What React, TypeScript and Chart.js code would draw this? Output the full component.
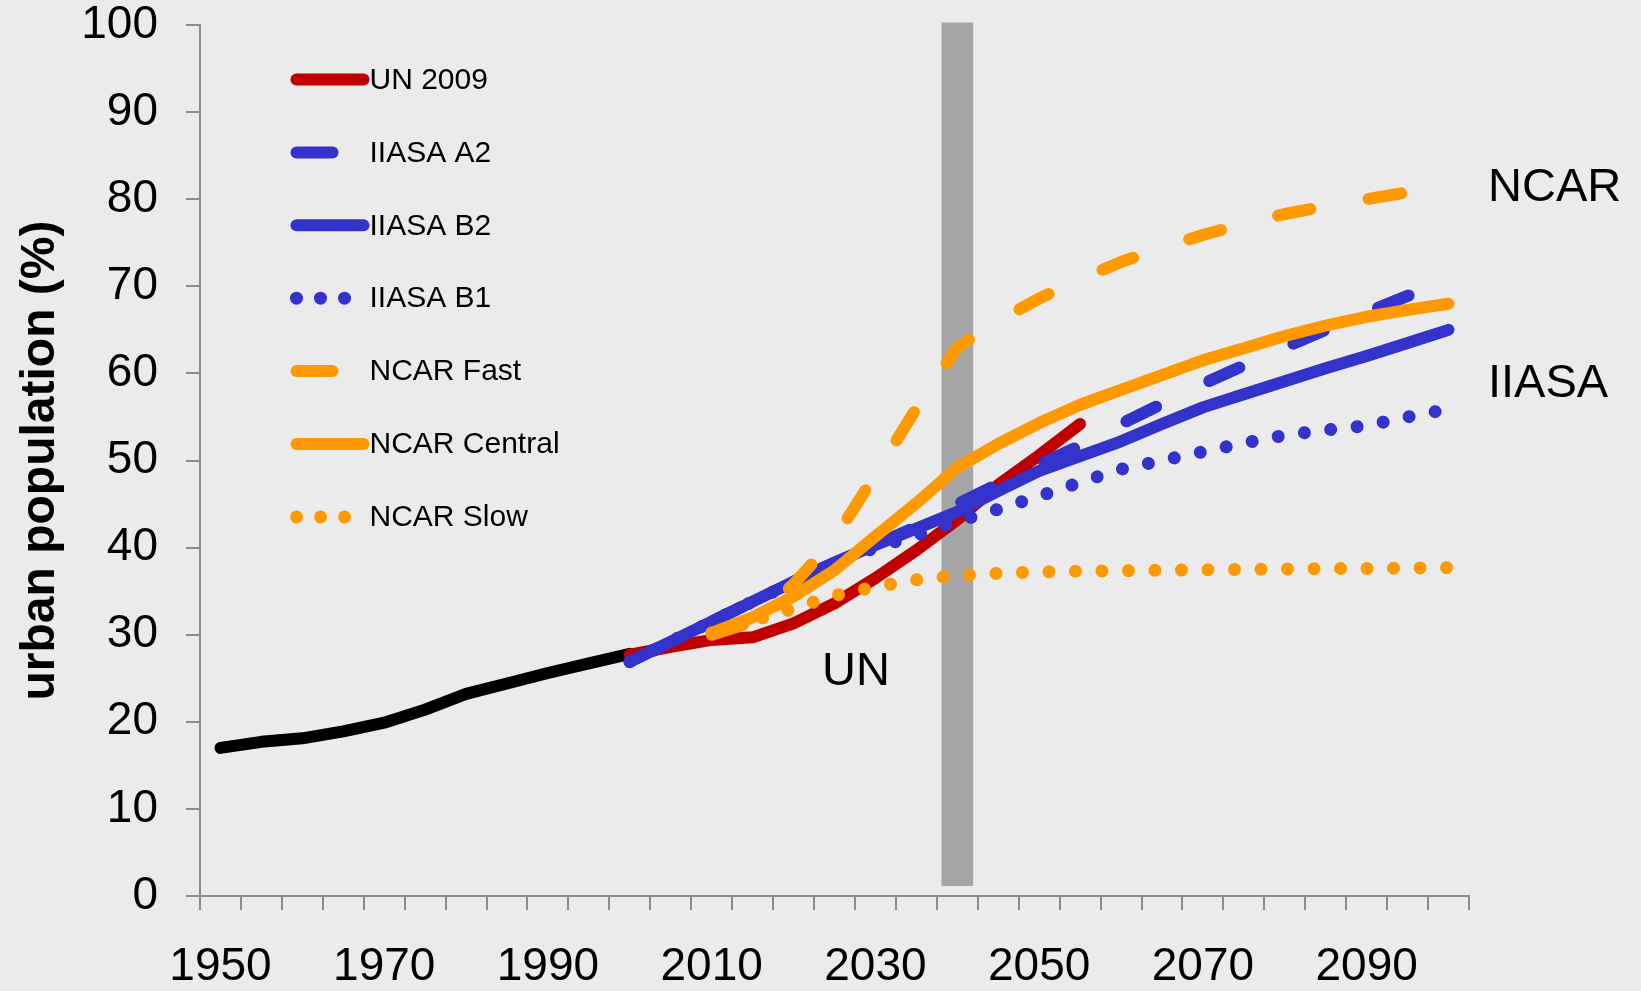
import React, { useEffect, useRef } from 'react';
import { Chart, registerables } from 'chart.js';

Chart.register(...registerables);

const N = null;

// Categories (5-year steps)
const years = [
  '1950', '1955', '1960', '1965', '1970', '1975', '1980', '1985', '1990', '1995',
  '2000', '2005', '2010', '2015', '2020', '2025', '2030', '2035', '2040', '2045',
  '2050', '2055', '2060', '2065', '2070', '2075', '2080', '2085', '2090', '2095', '2100',
];

// Tick labels shown on the x axis
const labeledYears = ['1950', '1970', '1990', '2010', '2030', '2050', '2070', '2090'];

// Urban population share (%)
const historical = [17.0, 17.7, 18.1, 18.9, 19.9, 21.4, 23.2, 24.4, 25.6, 26.7, 27.8,
  N, N, N, N, N, N, N, N, N, N, N, N, N, N, N, N, N, N, N, N];

const un2009 = [N, N, N, N, N, N, N, N, N, N,
  27.7, 28.6, 29.4, 29.7, 31.3, 33.6, 36.5, 39.7, 43.2, 47.2, 50.6, 54.2,
  N, N, N, N, N, N, N, N, N];

const iiasaA2 = [N, N, N, N, N, N, N, N, N, N,
  26.9, 29.2, 31.5, 33.8, 36.1, 38.3, 40.3, 42.4, 45.0, 47.3, 49.5, 51.7,
  54.2, 56.5, 58.8, 60.9, 63.0, 65.0, 67.0, 68.9, 70.6];

const iiasaB2 = [N, N, N, N, N, N, N, N, N, N,
  26.9, 29.2, 31.5, 33.8, 36.1, 38.3, 40.3, 42.2, 44.1, 46.5, 48.8, 50.5,
  52.2, 54.2, 56.1, 57.6, 59.1, 60.6, 62.0, 63.5, 65.0];

const iiasaB1 = [N, N, N, N, N, N, N, N, N, N,
  26.9, 29.2, 31.5, 33.8, 36.0, 38.1, 40.0, 41.4, 43.0, 44.4, 45.9, 47.5,
  49.0, 50.0, 51.0, 52.0, 52.9, 53.5, 54.0, 55.0, 55.9];

const ncarFast = [N, N, N, N, N, N, N, N, N, N, N, N,
  30.0, 31.5, 35.8, 41.0, 48.4, 56.0, 63.0, 66.0, 68.6, 70.8,
  72.8, 74.4, 75.9, 77.2, 78.3, 79.2, 80.0, 80.8, 81.5];

const ncarCentral = [N, N, N, N, N, N, N, N, N, N, N, N,
  30.2, 32.0, 34.4, 37.4, 41.3, 45.1, 49.2, 51.9, 54.3, 56.4,
  58.1, 59.8, 61.5, 62.9, 64.3, 65.5, 66.5, 67.3, 68.0];

const ncarSlow = [N, N, N, N, N, N, N, N, N, N, N, N,
  30.2, 31.6, 33.0, 34.5, 35.5, 36.3, 36.8, 37.05, 37.2, 37.3,
  37.35, 37.4, 37.45, 37.5, 37.55, 37.6, 37.6, 37.65, 37.7];

// Vertical shaded band at 2040 (from / to, %)
const band2040 = [N, N, N, N, N, N, N, N, N, N, N, N, N, N, N, N, N, N,
  [1.2, 100.25], N, N, N, N, N, N, N, N, N, N, N, N];

const legendLabels = ['UN 2009', 'IIASA A2', 'IIASA B2', 'IIASA B1', 'NCAR Fast', 'NCAR Central', 'NCAR Slow'];

const FONT = '"Liberation Sans", Arial, Helvetica, sans-serif';
const RED = '#C00000';
const BLUE = '#3333CC';
const ORANGE = '#FF9900';
const AXIS = '#8C8C8C';
const BG = '#EBEBEB';
const LW = 12;
const LW_DOT = 13;

const DASH_DATA: Record<string, number[]> = { solid: [], dash: [33, 59], dot: [0.01, 26.5] };
const DASH_LEGEND: Record<string, number[]> = { solid: [], dash: [36, 300], dot: [0.01, 24] };

function lineDs(label: string, data: any[], color: string, style: string, order: number) {
  return {
    type: 'line' as const,
    label,
    data,
    borderColor: color,
    backgroundColor: color,
    borderWidth: style === 'dot' ? LW_DOT : LW,
    borderDash: DASH_DATA[style],
    borderCapStyle: 'round' as const,
    borderJoinStyle: 'round' as const,
    pointRadius: 0,
    pointHoverRadius: 0,
    tension: 0,
    fill: false,
    spanGaps: false,
    order,
    lineStyle: style,
  };
}

const overlayPlugin = {
  id: 'overlay',
  afterDraw(chart: any) {
    const { ctx, chartArea } = chart;
    ctx.save();
    // legend
    const x0 = chartArea.left + 96.5;
    const x1 = chartArea.left + 163.5;
    const tx = chartArea.left + 169.5;
    const y0 = chartArea.top + 54.5;
    const step = 72.9;
    legendLabels.forEach((lab, i) => {
      const ds = chart.data.datasets.find((d: any) => d.label === lab);
      if (!ds) return;
      const y = y0 + i * step;
      ctx.beginPath();
      ctx.setLineDash(DASH_LEGEND[ds.lineStyle]);
      ctx.lineDashOffset = 0;
      ctx.lineCap = 'round';
      ctx.lineWidth = ds.borderWidth;
      ctx.strokeStyle = ds.borderColor;
      ctx.moveTo(x0, y);
      ctx.lineTo(x1, y);
      ctx.stroke();
      ctx.setLineDash([]);
      ctx.fillStyle = '#000';
      ctx.font = `30px ${FONT}`;
      ctx.textAlign = 'left';
      ctx.textBaseline = 'middle';
      ctx.fillText(lab, tx, y + 1);
    });
    // annotations
    ctx.font = `47px ${FONT}`;
    ctx.textBaseline = 'alphabetic';
    ctx.textAlign = 'left';
    ctx.fillStyle = '#000';
    ctx.fillText('UN', 822, 685);
    ctx.fillText('NCAR', 1488, 200.5);
    ctx.fillText('IIASA', 1488, 397);
    ctx.restore();
  },
};

export default function App() {
  const ref = useRef<HTMLCanvasElement | null>(null);

  useEffect(() => {
    if (!ref.current) return;
    const chart = new Chart(ref.current, {
      type: 'line',
      data: {
        labels: years,
        datasets: [
          {
            type: 'bar' as const,
            label: 'band',
            data: band2040 as any,
            backgroundColor: '#A6A6A6',
            borderWidth: 0,
            barThickness: 31,
            clip: false as any,
            order: 100,
          } as any,
          lineDs('History', historical, '#000000', 'solid', 90),
          lineDs('UN 2009', un2009, RED, 'solid', 80),
          lineDs('IIASA A2', iiasaA2, BLUE, 'dash', 70),
          lineDs('IIASA B2', iiasaB2, BLUE, 'solid', 60),
          lineDs('IIASA B1', iiasaB1, BLUE, 'dot', 50),
          lineDs('NCAR Fast', ncarFast, ORANGE, 'dash', 40),
          lineDs('NCAR Central', ncarCentral, ORANGE, 'solid', 30),
          lineDs('NCAR Slow', ncarSlow, ORANGE, 'dot', 20),
        ] as any,
      },
      options: {
        responsive: false,
        animation: false,
        events: [],
        layout: { padding: { top: 25, right: 172, left: 0, bottom: 0 } },
        plugins: {
          legend: { display: false },
          tooltip: { enabled: false },
          title: { display: false },
        },
        scales: {
          x: {
            type: 'category',
            offset: true,
            grid: {
              display: true,
              offset: true,
              drawOnChartArea: false,
              drawTicks: true,
              tickLength: 14,
              color: AXIS,
              lineWidth: 2,
            },
            border: { display: true, color: AXIS, width: 2 },
            ticks: {
              autoSkip: false,
              maxRotation: 0,
              minRotation: 0,
              padding: 34,
              color: '#000',
              font: { family: FONT, size: 46, lineHeight: 1 },
              callback: function (this: any, value: any) {
                const lab = this.getLabelForValue(value);
                return labeledYears.includes(lab) ? lab : '';
              },
            },
            afterFit: (scale: any) => {
              scale.height = 95;
              scale.paddingLeft = 0;
              scale.paddingRight = 0;
            },
          },
          y: {
            min: 0,
            max: 100,
            grid: {
              display: true,
              drawOnChartArea: false,
              drawTicks: true,
              tickLength: 14,
              color: AXIS,
              lineWidth: 2,
            },
            border: { display: true, color: AXIS, width: 2 },
            ticks: {
              stepSize: 10,
              padding: 28,
              color: '#000',
              font: { family: FONT, size: 46, lineHeight: 1 },
            },
            title: {
              display: true,
              text: 'urban population (%)',
              color: '#000',
              font: { family: FONT, size: 48, weight: 'bold', lineHeight: 1 },
              padding: { top: 17, bottom: 0 },
            },
            afterFit: (scale: any) => {
              scale.width = 200;
              scale.paddingTop = 0;
              scale.paddingBottom = 0;
            },
          },
        },
      },
      plugins: [overlayPlugin],
    });
    return () => chart.destroy();
  }, []);

  return (
    <div style={{ position: 'fixed', left: 0, top: 0, width: 1641, height: 991, background: BG }}>
      <canvas ref={ref} width={1641} height={991} style={{ width: 1641, height: 991, display: 'block' }} />
    </div>
  );
}
